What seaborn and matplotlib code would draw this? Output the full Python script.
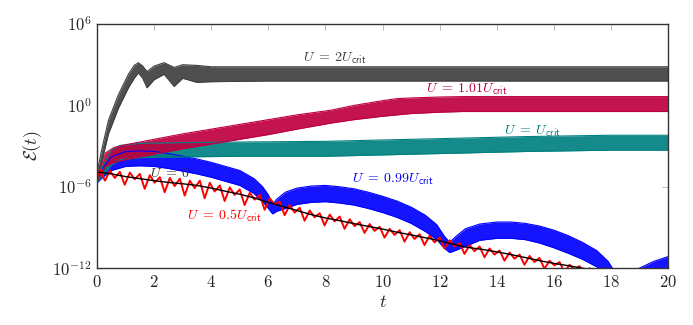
import numpy as np
import pandas as pd
import matplotlib
matplotlib.use("Agg")
import matplotlib.pyplot as plt
import seaborn as sns

# log10 of the energy
# dense oscillating curves are kept as upper/lower envelopes
gray_t = [0, 0.15, 0.4, 0.75, 1.1, 1.3, 1.45, 1.6, 1.75, 2.0, 2.35, 2.7, 3.0, 3.5, 4.0, 6, 8, 10, 12, 14, 16, 18, 20]
gray_hi = [-5.0, -3.4, -1.1, 0.8, 2.3, 2.95, 3.15, 2.9, 2.5, 2.9, 3.15, 2.8, 3.0, 2.95, 2.85, 2.85, 2.85, 2.85, 2.85, 2.85, 2.85, 2.85, 2.85]
gray_lo = [-5.6, -4.3, -2.1, -0.2, 1.3, 2.0, 2.4, 2.0, 1.3, 1.9, 2.3, 1.4, 2.0, 1.7, 1.75, 1.8, 1.8, 1.8, 1.8, 1.8, 1.8, 1.8, 1.8]

mag_t = [0, 0.15, 0.3, 0.6, 1.0, 1.5, 2.0, 2.5, 3, 4, 5, 6, 7, 8.2, 9, 10, 10.5, 11, 12, 12.8, 14, 16, 18, 20]
mag_hi = [-5.3, -4.3, -3.5, -3.1, -2.9, -2.7, -2.5, -2.3, -2.1, -1.75, -1.4, -1.05, -0.7, -0.35, 0.0, 0.35, 0.5, 0.55, 0.62, 0.65, 0.65, 0.65, 0.65, 0.65]
mag_lo = [-5.6, -5.0, -4.5, -4.2, -4.0, -3.8, -3.6, -3.4, -3.2, -2.85, -2.5, -2.15, -1.75, -1.3, -1.05, -0.8, -0.7, -0.6, -0.5, -0.45, -0.45, -0.45, -0.45, -0.45]

teal_t = [0, 0.2, 0.5, 0.8, 1.5, 3, 5, 8, 10, 13, 15, 18, 20]
teal_hi = [-5.4, -4.5, -3.3, -2.95, -2.8, -2.75, -2.7, -2.65, -2.55, -2.4, -2.3, -2.2, -2.2]
teal_lo = [-5.7, -5.2, -4.4, -4.0, -3.85, -3.8, -3.75, -3.75, -3.65, -3.5, -3.4, -3.3, -3.3]

blue_t = [0, 0.2, 0.5, 1.0, 1.5, 2.0, 2.5, 3.0, 3.5, 4.0, 4.5, 5.0, 5.5, 5.8, 6.0, 6.15, 6.3, 6.6, 7.0, 7.5, 8.0, 8.5,
          9.0, 9.5, 10.0, 10.5, 11.0, 11.5, 11.9, 12.15, 12.35, 12.55, 12.9, 13.4, 14.0, 14.5, 15.0, 15.5, 16.0, 16.5,
          17.0, 17.5, 17.9, 18.2, 18.45, 18.7, 19.0, 19.5, 20.0]
blue_hi = [-5.4, -4.6, -3.8, -3.4, -3.35, -3.4, -3.55, -3.75, -3.95, -4.2, -4.5, -4.8, -5.4, -6.0, -6.6, -7.3, -6.9, -6.4,
           -6.1, -5.95, -5.9, -6.0, -6.15, -6.4, -6.7, -7.05, -7.5, -8.1, -8.8, -9.6, -10.1, -9.7, -9.1, -8.75, -8.6,
           -8.6, -8.7, -8.9, -9.2, -9.6, -10.1, -10.7, -11.5, -12.5, -13.5, -12.6, -12.0, -11.5, -11.15]
blue_lo = [-5.7, -5.3, -4.8, -4.5, -4.45, -4.5, -4.65, -4.85, -5.05, -5.3, -5.6, -5.9, -6.5, -7.1, -7.6, -8.0, -7.8, -7.6,
           -7.3, -7.15, -7.1, -7.2, -7.35, -7.6, -7.9, -8.25, -8.7, -9.3, -9.9, -10.5, -10.85, -10.7, -10.4, -9.95, -9.8,
           -9.8, -9.9, -10.15, -10.5, -10.9, -11.35, -11.9, -12.5, -13.2, -14.0, -13.4, -12.9, -12.4, -12.1]

# U = 0 (smooth black line)
zero_t = [0, 0.5, 1.0, 1.5, 2.0, 2.5, 3.0, 3.5, 4.0, 4.5, 5.0, 5.5, 6.0, 6.5, 7.0, 7.5, 8.0, 8.5, 9.0,
          9.5, 10.0, 10.5, 11.0, 11.5, 12.0, 12.5, 13.0, 13.5, 14.0, 14.5, 15.0, 15.5, 16.0, 16.5, 17.0, 17.5]
zero_v = [-4.9, -5.05, -5.25, -5.4, -5.55, -5.68, -5.78, -5.9, -6.1, -6.33, -6.55, -6.82, -7.15, -7.45, -7.75,
          -8.05, -8.3, -8.5, -8.72, -8.92, -9.12, -9.35, -9.55, -9.76, -9.98, -10.25, -10.48, -10.62, -10.8,
          -11.0, -11.22, -11.45, -11.65, -11.82, -12.0, -12.2]

# U = 0.5 Ucrit (red, peaks and troughs)
red_t = [0.00, 0.10, 0.28, 0.45, 0.62, 0.80, 0.97, 1.15, 1.32, 1.50, 1.67, 1.85, 2.02, 2.20, 2.37, 2.55, 2.72, 2.90,
         3.07, 3.25, 3.42, 3.60, 3.77, 3.95, 4.12, 4.30, 4.47, 4.65, 4.82, 5.00, 5.17, 5.35, 5.52, 5.70, 5.87, 6.05,
         6.22, 6.40, 6.57, 6.75, 6.92, 7.10, 7.27, 7.45, 7.62, 7.80, 7.97, 8.15, 8.32, 8.50, 8.67, 8.85, 9.02, 9.20,
         9.37, 9.55, 9.72, 9.90, 10.07, 10.25, 10.42, 10.60, 10.77, 10.95, 11.12, 11.30, 11.47, 11.65, 11.82, 12.00,
         12.17, 12.35, 12.52, 12.70, 12.87, 13.05, 13.22, 13.40, 13.57, 13.75, 13.92, 14.10, 14.27, 14.45, 14.62,
         14.80, 14.97, 15.15, 15.32, 15.50, 15.67, 15.85, 16.02, 16.20, 16.37, 16.55, 16.72, 16.90, 17.07, 17.25,
         17.42, 17.60, 17.77]
red_v = [-5.30, -4.75, -5.55, -4.80, -5.35, -4.90, -5.85, -4.95, -5.45, -5.05, -6.15, -5.15, -5.70, -5.30, -6.40,
         -5.35, -5.95, -5.40, -6.65, -5.55, -6.10, -5.55, -6.85, -5.70, -6.35, -5.90, -7.05, -6.05, -6.60, -6.20,
         -7.35, -6.45, -6.95, -6.60, -7.70, -6.85, -7.30, -7.10, -8.10, -7.35, -7.90, -7.55, -8.50, -7.75, -8.25,
         -7.95, -8.85, -8.05, -8.55, -8.20, -9.10, -8.40, -8.90, -8.60, -9.40, -8.75, -9.25, -8.95, -9.75, -9.10,
         -9.55, -9.20, -10.05, -9.35, -9.85, -9.50, -10.30, -9.60, -10.10, -9.75, -10.55, -9.95, -10.40, -10.15,
         -10.95, -10.30, -10.75, -10.40, -11.20, -10.55, -11.00, -10.70, -11.45, -10.85, -11.30, -11.00, -11.75,
         -11.10, -11.55, -11.25, -12.05, -11.45, -11.80, -11.55, -12.30, -11.75, -12.10, -11.85, -12.50, -12.00,
         -12.40, -12.10, -12.70]

c_gray = '#404040'
c_mag = '#BF0040'
c_teal = '#008080'
c_blue = '#0000FF'
c_red = '#FF0000'

sns.set_style("white")
plt.rcParams['mathtext.fontset'] = 'cm'
plt.rcParams['font.family'] = ['DejaVu Serif']

fig = plt.figure(figsize=(6.93, 3.25), dpi=100)
ax = fig.add_axes([0.14, 0.175, 0.824, 0.751])
ax.set_yscale('log')


def band(t, hi, lo, color):
    t = np.array(t)
    hi = 10.0 ** np.array(hi)
    lo = 10.0 ** np.array(lo)
    ax.fill_between(t, lo, hi, color=color, lw=0, alpha=0.92)
    sns.lineplot(x=t, y=hi, color=color, lw=0.8, ax=ax)
    sns.lineplot(x=t, y=lo, color=color, lw=0.8, ax=ax)


band(blue_t, blue_hi, blue_lo, c_blue)
band(teal_t, teal_hi, teal_lo, c_teal)
band(mag_t, mag_hi, mag_lo, c_mag)
band(gray_t, gray_hi, gray_lo, c_gray)

red_df = pd.DataFrame({'t': red_t, 'E': 10.0 ** np.array(red_v)})
sns.lineplot(data=red_df, x='t', y='E', color=c_red, lw=1.4, ax=ax)
zero_df = pd.DataFrame({'t': zero_t, 'E': 10.0 ** np.array(zero_v)})
sns.lineplot(data=zero_df, x='t', y='E', color='black', lw=1.0, ax=ax)

fs = 10
ax.text(8.34, 10 ** 3.5, r'$U\;=\;2U_{\mathsf{crit}}$', color=c_gray, fontsize=fs, ha='center', va='center')
ax.text(12.96, 10 ** 1.2, r'$U\;=\;1.01U_{\mathsf{crit}}$', color=c_mag, fontsize=fs, ha='center', va='center')
ax.text(15.24, 10 ** -1.9, r'$U\;=\;U_{\mathsf{crit}}$', color=c_teal, fontsize=fs, ha='center', va='center')
ax.text(10.37, 10 ** -5.43, r'$U\;=\;0.99U_{\mathsf{crit}}$', color=c_blue, fontsize=fs, ha='center', va='center')
ax.text(2.56, 10 ** -5.0, r'$U\;=\;0$', color='#333333', fontsize=fs, ha='center', va='center')
ax.text(4.45, 10 ** -8.16, r'$U\;=\;0.5U_{\mathsf{crit}}$', color=c_red, fontsize=fs, ha='center', va='center')

ax.set_xlim(0, 20)
ax.set_ylim(1e-12, 1e6)
ax.set_xticks(range(0, 21, 2))
ax.set_xticklabels([r'$%d$' % v for v in range(0, 21, 2)])
ax.set_yticks([1e-12, 1e-6, 1e0, 1e6])
ax.set_yticklabels([r'$10^{-12}$', r'$10^{-6}$', r'$10^{0}$', r'$10^{6}$'])
ax.minorticks_off()
ax.tick_params(direction='in', length=4, width=0.6, color='#b0b0b0', labelsize=12,
               top=True, right=True, pad=4)
for s in ax.spines.values():
    s.set_color('#333333')
    s.set_linewidth(1.0)

ax.set_xlabel(r'$t$', fontsize=13, labelpad=2)
ax.set_ylabel(r'$\mathcal{E}(t)$', fontsize=13, labelpad=6)

fig.savefig('out.png', dpi=100)
